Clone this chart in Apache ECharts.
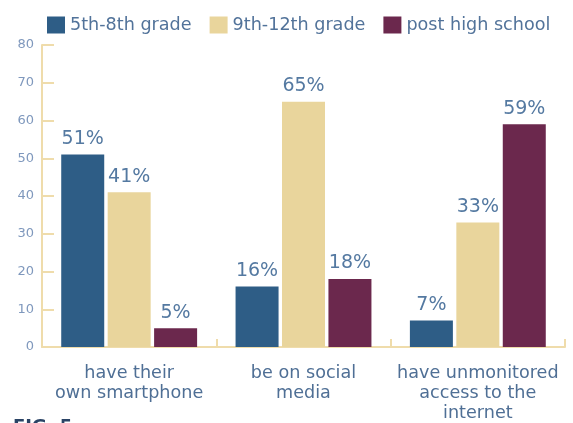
<!DOCTYPE html>
<html>
<head>
<meta charset="utf-8">
<script src="https://cdn.jsdelivr.net/npm/echarts@6/dist/echarts.min.js"></script>
<style>
  html, body { margin: 0; padding: 0; background: #ffffff; }
  #chart { width: 573px; height: 423px; }
</style>
</head>
<body>
<div id="chart"></div>
<script>
// Share of kids who ... by age group (percent)
const categories = ['have their\nown smartphone', 'be on social\nmedia', 'have unmonitored\naccess to the\ninternet'];
const grade5to8 = [51, 16, 7];
const grade9to12 = [41, 65, 33];
const postHighSchool = [5, 18, 59];
const yTicks = [0, 10, 20, 30, 40, 50, 60, 70, 80];

const FONT = '"DejaVu Sans", Verdana, sans-serif';
const axisTan = '#efdcab';

function barSeries(name, values, color) {
  return {
    name: name,
    type: 'bar',
    data: values,
    barWidth: 43,
    barGap: '8%',
    itemStyle: { color: color },
    label: {
      show: true,
      position: 'top',
      distance: 6,
      formatter: '{c}%',
      color: '#5479a1',
      fontFamily: FONT,
      fontSize: 19
    }
  };
}

const chart = echarts.init(document.getElementById('chart'), null, { renderer: 'canvas' });
chart.setOption({
  animation: false,
  backgroundColor: '#ffffff',
  legend: {
    left: 42,
    top: 11,
    icon: 'rect',
    itemWidth: 18,
    itemHeight: 17,
    itemGap: 18,
    textStyle: { color: '#52739a', fontFamily: FONT, fontSize: 17.6 },
    data: ['5th-8th grade', '9th-12th grade', 'post high school']
  },
  grid: { left: 42, right: 8, top: 45, bottom: 76, containLabel: false },
  xAxis: {
    type: 'category',
    data: categories,
    axisLine: { lineStyle: { color: axisTan, width: 2 } },
    axisTick: { show: true, inside: true, length: 8, lineStyle: { color: axisTan, width: 2 } },
    axisLabel: {
      color: '#4f6f95',
      fontFamily: FONT,
      fontSize: 17.6,
      lineHeight: 20,
      margin: 16,
      interval: 0
    }
  },
  yAxis: {
    type: 'value',
    min: yTicks[0],
    max: yTicks[yTicks.length - 1],
    interval: yTicks[1] - yTicks[0],
    splitLine: { show: false },
    axisLine: { show: true, lineStyle: { color: axisTan, width: 2 } },
    axisTick: { show: true, inside: true, length: 12, lineStyle: { color: axisTan, width: 2 } },
    axisLabel: { color: '#7f98bd', fontFamily: FONT, fontSize: 13, margin: 8 }
  },
  series: [
    barSeries('5th-8th grade', grade5to8, '#2e5d86'),
    barSeries('9th-12th grade', grade9to12, '#e9d59c'),
    barSeries('post high school', postHighSchool, '#6b284d')
  ],
  graphic: [{
    type: 'text',
    left: 13,
    top: 418,
    style: { text: 'FIG. 5', fill: '#2a4365', font: 'bold 18px ' + FONT }
  }]
});
</script>
</body>
</html>
